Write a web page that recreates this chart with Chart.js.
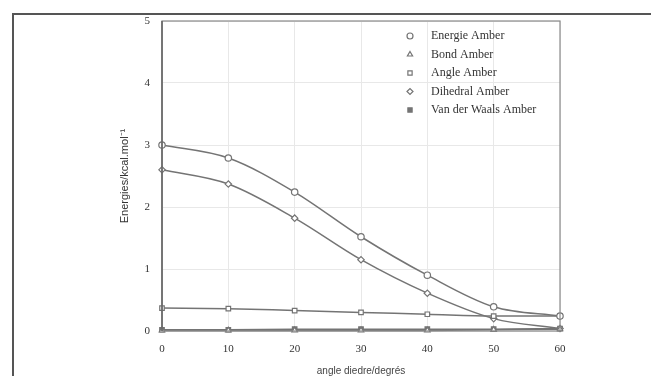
<!DOCTYPE html>
<html>
<head>
<meta charset="utf-8">
<script src="https://cdn.jsdelivr.net/npm/chart.js@4/dist/chart.umd.min.js"></script>
<style>
  html, body { margin: 0; padding: 0; background: #fff; }
  #wrap { width: 651px; height: 376px; }
</style>
</head>
<body>
<div id="wrap"><canvas id="chart" width="651" height="376"></canvas></div>
<script>
// dihedral angle in degrees
const angles = [0, 10, 20, 30, 40, 50, 60];

// energies in kcal/mol
const energie = [3.00, 2.79, 2.24, 1.52, 0.90, 0.39, 0.24];
const bond    = [0.01, 0.01, 0.01, 0.01, 0.01, 0.02, 0.03];
const angle   = [0.37, 0.36, 0.33, 0.30, 0.27, 0.24, 0.24];
const dihedral = [2.60, 2.37, 1.82, 1.15, 0.61, 0.20, 0.04];
const vdw     = [0.02, 0.02, 0.03, 0.03, 0.03, 0.03, 0.04];

const yTicks = [0, 1, 2, 3, 4, 5];
const xTicks = [0, 10, 20, 30, 40, 50, 60];

const lineColor = '#747474';
const serif = "'Liberation Serif', 'DejaVu Serif', serif";

const toPoints = (ys) => angles.map((x, i) => ({ x: x, y: ys[i] }));

const makeSet = (label, ys, style, filled) => ({
    label: label,
    data: toPoints(ys),
    borderColor: lineColor,
    borderWidth: 1.5,
    backgroundColor: filled ? lineColor : '#ffffff',
    pointStyle: style,
    pointRadius: 3.2,
    pointBorderWidth: 1.2,
    pointBorderColor: lineColor,
    cubicInterpolationMode: 'monotone',
    clip: false
});

// page edge of the scanned sheet + plot frame + legend inside the plot
const decor = {
    id: 'decor',
    beforeDraw(chart) {
        const ctx = chart.ctx;
        ctx.save();
        ctx.fillStyle = '#fff';
        ctx.fillRect(0, 0, chart.width, chart.height);
        ctx.strokeStyle = '#555';
        ctx.lineWidth = 2;
        ctx.beginPath();
        ctx.moveTo(13, chart.height);
        ctx.lineTo(13, 14);
        ctx.lineTo(chart.width, 14);
        ctx.stroke();
        ctx.restore();
    },
    afterDatasetsDraw(chart) {
        const ctx = chart.ctx;
        const a = chart.chartArea;
        ctx.save();
        ctx.strokeStyle = '#8a8a8a';
        ctx.lineWidth = 1.2;
        ctx.strokeRect(a.left, a.top, a.right - a.left, a.bottom - a.top);
        ctx.strokeStyle = '#666';
        ctx.lineWidth = 1.6;
        ctx.beginPath();
        ctx.moveTo(a.left, a.top);
        ctx.lineTo(a.left, a.bottom);
        ctx.stroke();

        // legend
        ctx.font = '12px ' + serif;
        ctx.textBaseline = 'middle';
        chart.data.datasets.forEach((ds, i) => {
            const y = 36 + i * 18.5;
            ctx.strokeStyle = lineColor;
            ctx.fillStyle = ds.backgroundColor;
            ctx.lineWidth = 1.2;
            Chart.helpers.drawPoint(ctx, {
                pointStyle: ds.pointStyle, radius: 3, borderWidth: 1.2, rotation: 0
            }, 410, y);
            ctx.fillStyle = '#333';
            ctx.fillText(ds.label, 431, y);
        });
        ctx.restore();
    }
};

new Chart(document.getElementById('chart').getContext('2d'), {
    type: 'line',
    data: {
        datasets: [
            makeSet('Energie Amber', energie, 'circle', false),
            makeSet('Bond Amber', bond, 'triangle', false),
            makeSet('Angle Amber', angle, 'rect', false),
            makeSet('Dihedral Amber', dihedral, 'rectRot', false),
            makeSet('Van der Waals Amber', vdw, 'rect', true)
        ]
    },
    options: {
        responsive: false,
        animation: false,
        layout: { padding: { left: 118, top: 21, right: 91, bottom: 0 } },
        plugins: {
            legend: { display: false },
            tooltip: { enabled: false }
        },
        scales: {
            x: {
                type: 'linear',
                min: 0,
                max: 60,
                afterBuildTicks: (s) => { s.ticks = xTicks.map(v => ({ value: v })); },
                afterFit: (s) => { s.height = 45; },
                grid: { color: '#e8e8e8', drawTicks: false },
                border: { display: false },
                ticks: {
                    padding: 12,
                    color: '#333',
                    font: { family: serif, size: 11 }
                },
                title: {
                    display: true,
                    text: 'angle diedre/degrés',
                    color: '#444',
                    padding: { top: 0, bottom: 0 },
                    font: { family: "'Liberation Sans', sans-serif", size: 10, lineHeight: 1.0 }
                }
            },
            y: {
                min: 0,
                max: 5,
                afterBuildTicks: (s) => { s.ticks = yTicks.map(v => ({ value: v })); },
                afterFit: (s) => { s.width = 44; },
                grid: { color: '#e8e8e8', drawTicks: false },
                border: { display: false },
                ticks: {
                    padding: 12,
                    color: '#333',
                    font: { family: serif, size: 11 }
                },
                title: {
                    display: true,
                    text: 'Energies/kcal.mol⁻¹',
                    color: '#333',
                    padding: { top: 0, bottom: 0 },
                    font: { family: "'Liberation Sans', sans-serif", size: 11 }
                }
            }
        }
    },
    plugins: [decor]
});
</script>
</body>
</html>
